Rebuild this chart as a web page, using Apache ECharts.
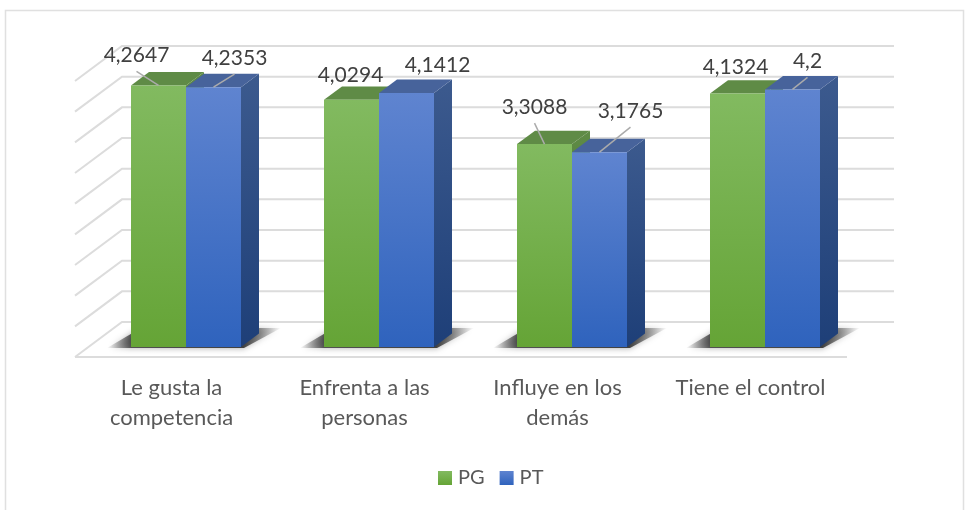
<!DOCTYPE html>
<html><head><meta charset="utf-8">
<style>html,body{margin:0;padding:0;background:#fff}#c{width:965px;height:510px}</style>
<script src="https://cdn.jsdelivr.net/npm/echarts@6/dist/echarts.min.js"></script>
</head><body><div id="c"></div>
<script>
const categories = ['Le gusta la\ncompetencia', 'Enfrenta a las\npersonas', 'Influye en los\ndemás', 'Tiene el control'];
const pgValues = [4.2647, 4.0294, 3.3088, 4.1324];
const ptValues = [4.2353, 4.1412, 3.1765, 4.2];
const pgLabels = ['4,2647', '4,0294', '3,3088', '4,1324'];
const ptLabels = ['4,2353', '4,1412', '3,1765', '4,2'];
const gridTicks = [0, 0.5, 1, 1.5, 2, 2.5, 3, 3.5, 4, 4.5];

// layout: label offset from the top of each bar's front face, and whether a leader line shows
const pgLabelOffsets = [[-22, -30], [-1, -25], [-10, -37], [-2, -26]];
const ptLabelOffsets = [[21, -29], [31, -28], [31, -41], [15, -28]];
const pgLeaders = [true, false, true, false];
const ptLeaders = [true, false, true, true];
const WALL_DX = 47, WALL_DY = 35, BAR_SHIFT_DX = 14.5, BAR_SHIFT_DY = 10, BAR_DX = 18, BAR_DY = 13.4;
const BAR_W = 55;

const grad = (a, b) => new echarts.graphic.LinearGradient(0, 0, 0, 1, [{offset: 0, color: a}, {offset: 1, color: b}]);
const GRID_COLOR = '#dcdcdc';

function wallItem(params, api) {
  const cs = params.coordSys, v = api.value(0);
  const y = api.coord([0, v])[1];
  const x0 = cs.x, w = cs.width;
  const style = {stroke: GRID_COLOR, lineWidth: 2, fill: 'none'};
  const children = [{type: 'polyline', shape: {points: [[x0, y], [x0 + WALL_DX, y - WALL_DY], [x0 + WALL_DX + w, y - WALL_DY]]}, style}];
  if (v === 0) children.push({type: 'line', shape: {x1: x0, y1: y, x2: x0 + w, y2: y}, style});
  return {type: 'group', silent: true, children};
}

function shadowItem(params, api) {
  const p = api.coord([api.value(0), 0]);
  const cx = p[0] + BAR_SHIFT_DX, y = p[1] - BAR_SHIFT_DY;
  const fill = new echarts.graphic.LinearGradient(0, 0, 1, 0, [
    {offset: 0, color: 'rgba(40,40,40,0)'},
    {offset: 0.14, color: 'rgba(40,40,40,0.75)'},
    {offset: 0.78, color: 'rgba(40,40,40,0.85)'},
    {offset: 1, color: 'rgba(40,40,40,0)'}
  ]);
  return {type: 'group', silent: true, children: [
    {type: 'polygon', shape: {points: [[cx - BAR_W - 24, y + 1], [cx + BAR_W + 3, y + 1], [cx + BAR_W + 40, y - 19], [cx - BAR_W + 10, y - 19]]},
      style: {fill, shadowBlur: 6, shadowColor: 'rgba(40,40,40,0.5)'}}
  ]};
}

function barRenderer(side, colors, labels, offsets, leaders) {
  return function (params, api) {
    const i = api.value(0);
    const top = api.coord([i, api.value(1)]);
    const base = api.coord([i, 0]);
    const cx = top[0] + BAR_SHIFT_DX;
    const x1 = side < 0 ? cx - BAR_W : cx, x2 = x1 + BAR_W;
    const yT = top[1] - BAR_SHIFT_DY, yB = base[1] - BAR_SHIFT_DY;
    const off = offsets[i];
    const lx = (x1 + x2) / 2 + off[0], ly = yT + off[1];
    const children = [
      {type: 'polygon', shape: {points: [[x2, yT], [x2 + BAR_DX, yT - BAR_DY], [x2 + BAR_DX, yB - BAR_DY], [x2, yB]]}, style: {fill: grad(colors.sideA, colors.sideB)}},
      {type: 'polygon', shape: {points: [[x1, yT], [x1 + BAR_DX, yT - BAR_DY], [x2 + BAR_DX, yT - BAR_DY], [x2, yT]]}, style: {fill: colors.top}},
      {type: 'rect', shape: {x: x1, y: yT, width: BAR_W, height: yB - yT}, style: {fill: grad(colors.a, colors.b)}}
    ];
    if (leaders[i]) children.push({type: 'line', shape: {x1: (x1 + x2) / 2, y1: yT, x2: lx, y2: ly + 16}, style: {stroke: '#ababab', lineWidth: 1.5}});
    children.push({type: 'text', style: {text: labels[i], x: lx, y: ly, align: 'center', verticalAlign: 'middle', font: '21px Lato', fill: '#404040'}});
    return {type: 'group', children};
  };
}

const greenC = {a: '#82ba60', b: '#65a436', top: '#5f8b46', sideA: '#5f8b46', sideB: '#3f6f24'};
const blueC = {a: '#5f84d0', b: '#2f63bd', top: '#47639b', sideA: '#3c5a8e', sideB: '#1e3f78'};

const chart = echarts.init(document.getElementById('c'), null, {renderer: 'canvas'});
chart.setOption({
  animation: false,
  backgroundColor: '#fff',
  graphic: [{type: 'rect', z: -1, silent: true, shape: {x: 5.5, y: 10.5, width: 958, height: 520}, style: {fill: 'none', stroke: '#e0e0e0', lineWidth: 1.5}}],
  legend: {
    data: ['PG', 'PT'], left: 433, top: 463, itemWidth: 14, itemHeight: 14, itemGap: 15,
    icon: 'rect', textStyle: {fontFamily: 'Lato', fontSize: 20, color: '#595959', padding: [0, 0, 0, 1]}
  },
  grid: {left: 75, right: 118, top: 81, bottom: 153},
  xAxis: {type: 'category', data: categories, axisLine: {show: false}, axisTick: {show: false},
    axisLabel: {fontFamily: 'Lato', fontSize: 22, color: '#595959', lineHeight: 30, margin: 16, verticalAlign: 'top', interval: 0}},
  yAxis: {type: 'value', min: 0, max: 4.5, interval: 0.5, show: false, splitLine: {show: false}},
  series: [
    {type: 'custom', name: 'walls', z: 1, data: gridTicks.map(v => [v]), encode: {y: 0}, renderItem: wallItem, silent: true},
    {type: 'custom', name: 'shadow', z: 2, data: categories.map((c, i) => [i]), encode: {x: 0}, renderItem: shadowItem, silent: true},
    {type: 'custom', name: 'PG', z: 3, itemStyle: {color: grad(greenC.a, greenC.b)}, data: pgValues.map((v, i) => [i, v]), encode: {x: 0, y: 1},
      renderItem: barRenderer(-1, greenC, pgLabels, pgLabelOffsets, pgLeaders)},
    {type: 'custom', name: 'PT', z: 4, itemStyle: {color: grad(blueC.a, blueC.b)}, data: ptValues.map((v, i) => [i, v]), encode: {x: 0, y: 1},
      renderItem: barRenderer(1, blueC, ptLabels, ptLabelOffsets, ptLeaders)}
  ]
});
</script></body></html>
